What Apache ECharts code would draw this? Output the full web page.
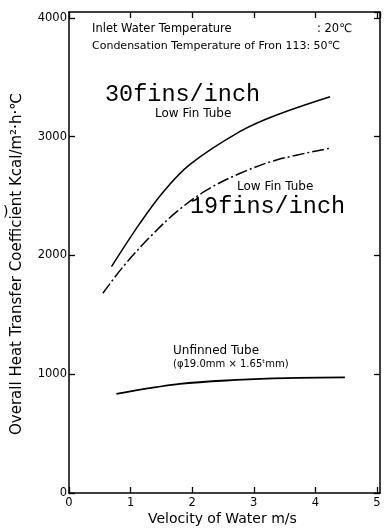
<!DOCTYPE html>
<html>
<head>
<meta charset="utf-8">
<script src="https://cdn.jsdelivr.net/npm/echarts@6/dist/echarts.min.js"></script>
<style>
html,body{margin:0;padding:0;background:#fff;}
#main{width:391px;height:529px;}
</style>
</head>
<body>
<div id="main"></div>
<script>
// 数据
var speed30 = [0.69, 1.15, 1.53, 1.96, 2.78, 3.37, 4.24];
var coef30 = [1906, 2270, 2535, 2765, 3045, 3183, 3337];
var speed19 = [0.55, 0.88, 1.32, 1.75, 2.24, 2.78, 3.37, 4.24];
var coef19 = [1682, 1906, 2158, 2369, 2552, 2692, 2804, 2903];
var speedBare = [0.77, 1.80, 2.72, 3.53, 4.48];
var coefBare = [834, 918, 952, 968, 973];
var xTicks = ['0', '1', '2', '3', '4', '5'];
var yTicks = ['0', '1000', '2000', '3000', '4000'];

function pairs(xs, ys) {
    return xs.map(function (x, i) { return [x, ys[i]]; });
}

var sans = 'DejaVu Sans';

var chart = echarts.init(document.getElementById('main'));
var lineAxis = {
    show: true,
    onZero: false,
    lineStyle: { color: '#000', width: 1.5 }
};
var tickIn = {
    show: true,
    inside: true,
    length: 6,
    lineStyle: { color: '#000', width: 1.3 }
};
var option = {
    backgroundColor: '#fff',
    animation: false,
    grid: { left: 69, right: 11, top: 12, bottom: 36 },
    xAxis: [{
        type: 'value',
        position: 'bottom',
        min: 0,
        max: 5.05,
        interval: 1,
        axisLine: lineAxis,
        axisTick: tickIn,
        splitLine: { show: false },
        axisLabel: {
            margin: 4,
            color: '#000',
            fontFamily: sans,
            fontSize: 11.5,
            showMaxLabel: false,
            formatter: function (v) {
                return xTicks.indexOf(String(v)) >= 0 ? String(v) : '';
            }
        }
    }, {
        type: 'value',
        position: 'top',
        min: 0,
        max: 5.05,
        interval: 1,
        axisLine: lineAxis,
        axisTick: tickIn,
        axisLabel: { show: false },
        splitLine: { show: false }
    }],
    yAxis: [{
        type: 'value',
        position: 'left',
        min: 0,
        max: 4050,
        interval: 1000,
        axisLine: lineAxis,
        axisTick: tickIn,
        splitLine: { show: false },
        axisLabel: {
            margin: 2,
            color: '#000',
            fontFamily: sans,
            fontSize: 11.5,
            showMaxLabel: false,
            formatter: function (v) {
                return yTicks.indexOf(String(v)) >= 0 ? String(v) : '';
            }
        }
    }, {
        type: 'value',
        position: 'right',
        min: 0,
        max: 4050,
        interval: 1000,
        axisLine: lineAxis,
        axisTick: tickIn,
        axisLabel: { show: false },
        splitLine: { show: false }
    }],
    series: [{
        name: '30fins/inch',
        type: 'line',
        data: pairs(speed30, coef30),
        smooth: 0.35,
        showSymbol: false,
        lineStyle: { color: '#000', width: 1.5 }
    }, {
        name: '19fins/inch',
        type: 'line',
        data: pairs(speed19, coef19),
        smooth: 0.35,
        showSymbol: false,
        lineStyle: { color: '#000', width: 1.5, type: [12, 3, 2, 3] }
    }, {
        name: 'Unfinned Tube',
        type: 'line',
        data: pairs(speedBare, coefBare),
        smooth: 0.35,
        showSymbol: false,
        lineStyle: { color: '#000', width: 1.8 }
    }],
    graphic: [
        { type: 'text', left: 92, top: 23, style: { text: 'Inlet Water Temperature', font: '11.5px "DejaVu Sans"', fill: '#000' } },
        { type: 'text', left: 317, top: 23, style: { text: ': 20℃', font: '11.5px "DejaVu Sans"', fill: '#000' } },
        { type: 'text', left: 92, top: 41, style: { text: 'Condensation Temperature of Fron 113: 50℃', font: '11px "DejaVu Sans"', fill: '#000' } },
        { type: 'text', left: 105, top: 83, style: { text: '30fins/inch', font: '23.5px "Liberation Mono"', fill: '#000' } },
        { type: 'text', left: 155, top: 108, style: { text: 'Low Fin Tube', font: '12px "DejaVu Sans"', fill: '#000' } },
        { type: 'text', left: 237, top: 181, style: { text: 'Low Fin Tube', font: '12px "DejaVu Sans"', fill: '#000' } },
        { type: 'text', left: 190, top: 195, style: { text: '19fins/inch', font: '23.5px "Liberation Mono"', fill: '#000' } },
        { type: 'text', left: 173, top: 345, style: { text: 'Unfinned Tube', font: '12px "DejaVu Sans"', fill: '#000' } },
        { type: 'text', left: 173, top: 359, style: { text: '(φ19.0mm × 1.65ᵗmm)', font: '10px "DejaVu Sans"', fill: '#000' } },
        { type: 'text', left: 148, top: 512, style: { text: 'Velocity of Water m/s', font: '14px "DejaVu Sans"', fill: '#000' } },
        { type: 'text', left: 3, top: 205, style: { text: ')', font: '14px "DejaVu Sans"', fill: '#000' } },
        {
            type: 'text',
            x: 17,
            y: 264,
            rotation: Math.PI / 2,
            style: {
                text: 'Overall Heat Transfer Coefficient Kcal/m²·h·℃',
                font: '15px "DejaVu Sans"',
                fill: '#000',
                align: 'center',
                verticalAlign: 'middle'
            }
        }
    ]
};
chart.setOption(option);
</script>
</body>
</html>
